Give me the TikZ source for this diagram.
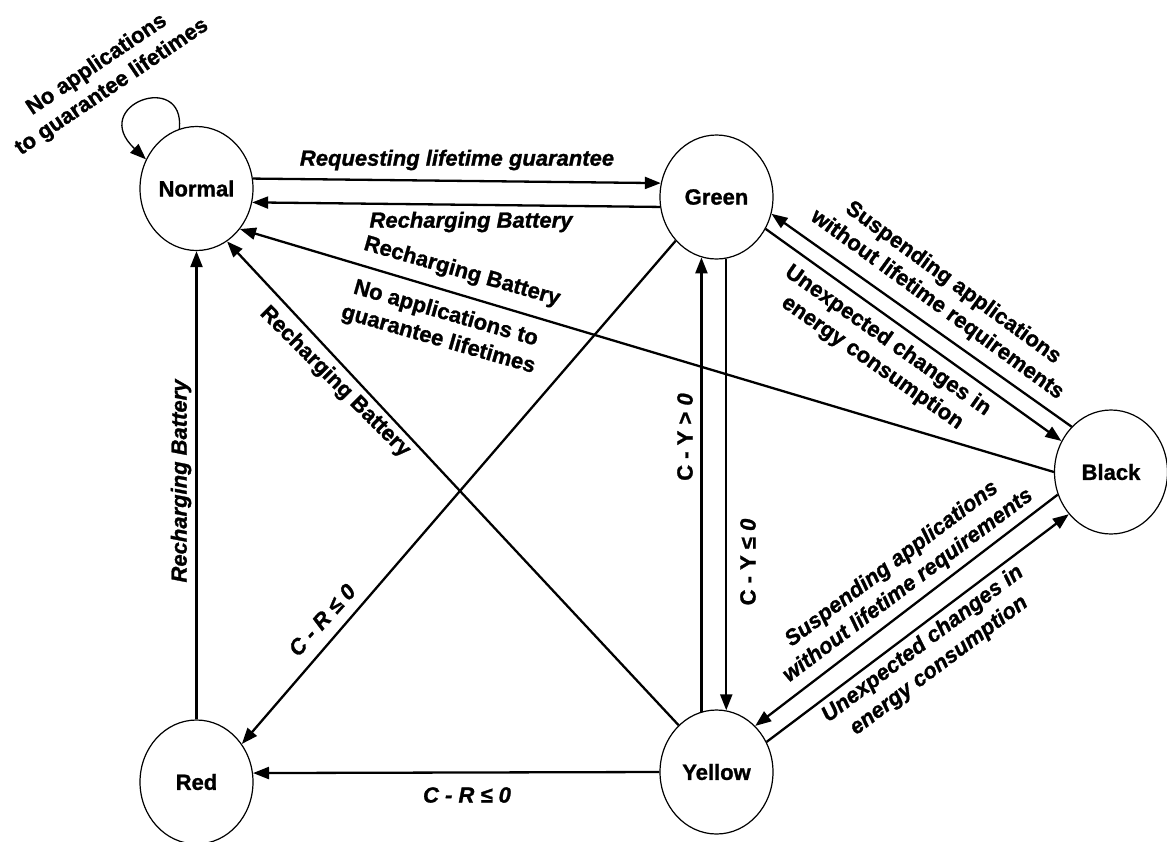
\documentclass[tikz,border=0pt]{standalone}
\usepackage{fontspec}
\setmainfont{Liberation Sans}[BoldFeatures={FakeBold=1.2},BoldItalicFeatures={FakeBold=1.2}]
\usetikzlibrary{shapes.geometric,arrows.meta}
\newcommand\labsize{\fontsize{22}{27}\selectfont}
\begin{document}
\begin{tikzpicture}[x=1pt,y=-1pt,
  state/.style={ellipse,draw,line width=1.2pt,minimum width=113pt,minimum height=124pt,
                inner sep=0pt,font=\labsize\bfseries},
  arr/.style={line width=2.3pt,-{Triangle[length=16pt,width=12pt]}},
  looparr/.style={line width=1.3pt,-{Triangle[length=16pt,width=12pt]}},
  lab/.style={inner sep=0pt,align=center,font=\labsize\bfseries\itshape},
  labr/.style={inner sep=0pt,align=center,font=\labsize\bfseries}]
\useasboundingbox (0,0) rectangle (1167,841);

% states
\node[state] (N) at (196.5,188.5) {Normal};
\node[state] (G) at (716.5,197)   {Green};
\node[state] (B) at (1111,472)    {Black};
\node[state] (R) at (196.5,782)   {Red};
\node[state] (Y) at (716.5,772)   {Yellow};

% transitions
\draw[looparr] (N.106) .. controls (185,70) and (88,105) .. (N.150);
\draw[arr] (N.10)  -- (G.166);
\draw[arr] (G.190) -- (N.-14);
\draw[arr] (B.180) -- (N.-43);
\draw[arr] (Y.129) -- (N.-60);
\draw[arr] (R.90)  -- (N.-90);
\draw[arr] (G.227) -- (R.40);
\draw[arr] (Y.180) -- (R.9);
\draw[arr] (Y.104) -- (G.256);
\draw[arr] (G.279) -- (Y.81);
\draw[arr] (G.-33) -- (B.148);
\draw[arr] (B.131) -- (G.-17);
\draw[arr] (B.203) -- (Y.50);
\draw[arr] (Y.31)  -- (B.225);

% transition labels
\node[labr,rotate=34]  (tNN)  at (104.5,76) {No applications\\to guarantee lifetimes};
\node[lab]             (tNG)  at (457,160)  {Requesting lifetime guarantee};
\node[lab]             (tGN)  at (471,222)  {Recharging Battery};
\node[labr,rotate=-16] (tBN)  at (462,272)  {Recharging Battery};
\node[labr,rotate=-16] (tBN2) at (442,327)  {No applications to\\guarantee lifetimes};
\node[labr,rotate=-45] (tYN)  at (335,382)  {Recharging Battery};
\node[lab,rotate=90]   (tRN)  at (181,481)  {Recharging Battery};
\node[lab,rotate=48]   (tGR)  at (322,620)  {C - R ≤ 0};
\node[lab]             (tYR)  at (467,795)  {C - R ≤ 0};
\node[labr,rotate=90]  (tYG)  at (685,437)  {C - Y > \textit{0}};
\node[labr,rotate=90]  (tGY)  at (748,562)  {C - Y ≤ \textit{0}};
\node[labr,rotate=-35] (tGB)  at (880,352)  {Unexpected changes in\\energy consumption};
\node[labr,rotate=-36] (tBG)  at (945,294)  {Suspending applications\\without lifetime requirements};
\node[lab,rotate=37]   (tBY)  at (900,575)  {Suspending applications\\without lifetime requirements};
\node[lab,rotate=37]   (tYB)  at (931,655)  {Unexpected changes in\\energy consumption};
\end{tikzpicture}
\end{document}
